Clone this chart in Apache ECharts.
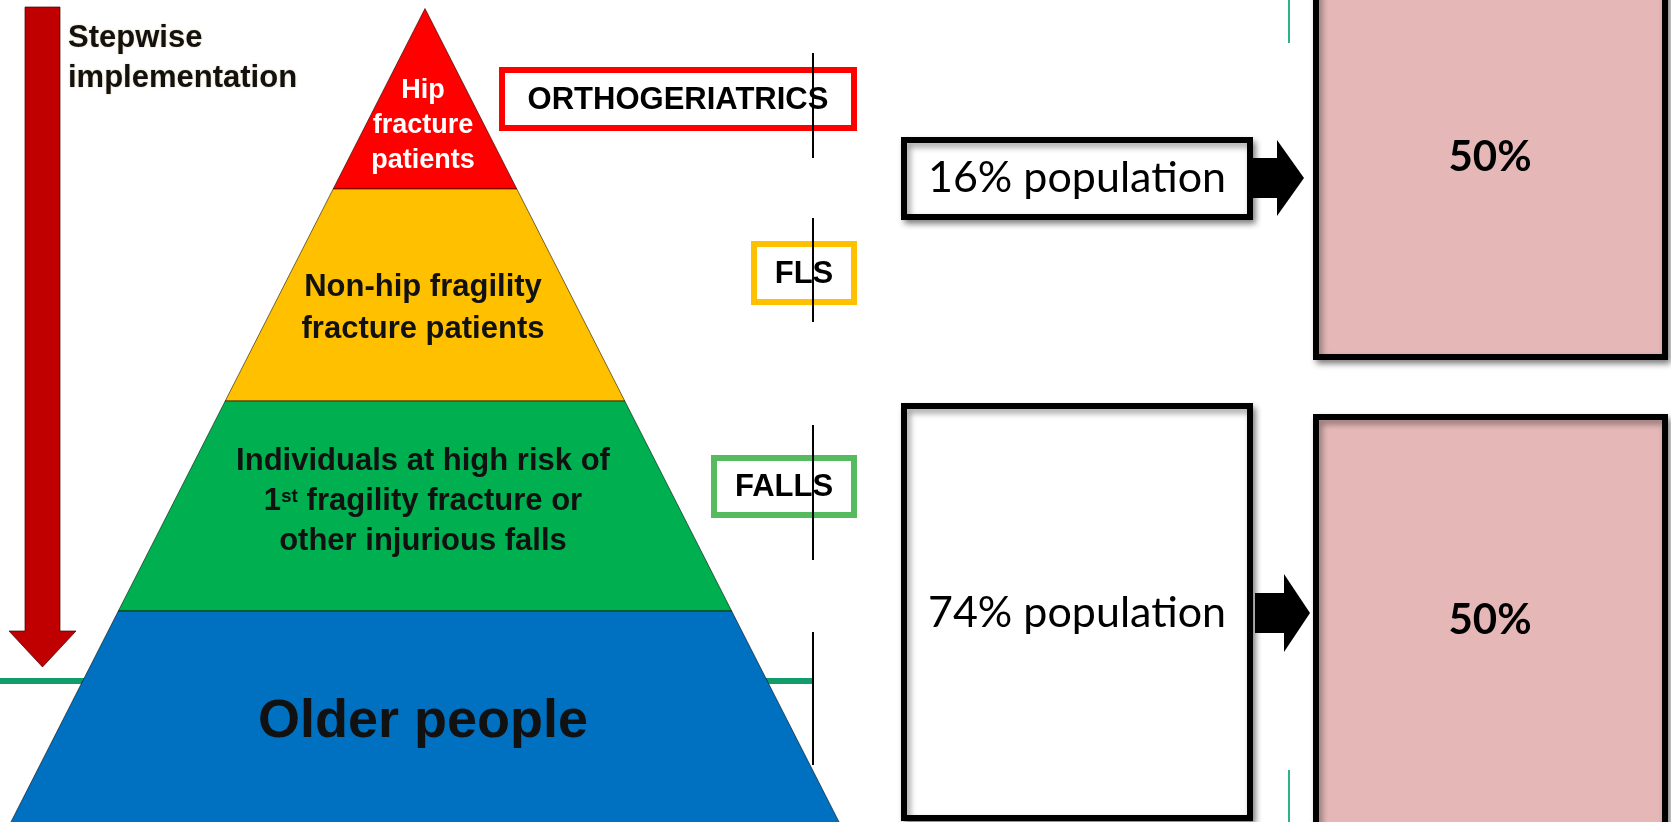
<!DOCTYPE html>
<html>
<head>
<meta charset="utf-8">
<title>Stepwise implementation pyramid</title>
<script src="https://cdn.jsdelivr.net/npm/echarts@6/dist/echarts.min.js"></script>
<style>
  html, body { margin: 0; padding: 0; background: #fff; }
  #main { width: 1671px; height: 822px; }
</style>
</head>
<body>
<div id="main"></div>
<script>
// ====== data ======
const tierLabels = [
  'Hip\nfracture\npatients',
  'Non-hip fragility\nfracture patients',
  'Individuals at high risk of\n1{sup|st} fragility fracture or\nother injurious falls',
  'Older people'
];
const programmeLabels = ['ORTHOGERIATRICS', 'FLS', 'FALLS'];
const populationShares = [16, 74];
const outcomeShares = [50, 50];
const stepLabel = ['Stepwise', 'implementation'];

// ====== layout / styles ======
const FONT = '"Liberation Sans", Arial, sans-serif';
const FONT_C = 'Lato, "Open Sans", sans-serif';
const PYR = { cx: 425, apexY: 8.5, slope: 0.509, bounds: [8.5, 189, 401, 611, 830] };
const tierColors = ['#FF0000', '#FFC000', '#00B050', '#0070C0'];
const tierText = [
  { size: 27, lh: 35, y: 126, color: '#ffffff' },
  { size: 31, lh: 42, y: 308, color: '#111111' },
  { size: 31, lh: 40, y: 501, color: '#111111' },
  { size: 54, lh: 60, y: 722, color: '#111111' }
];
const progBoxes = [
  { x: 502, y: 70, w: 352, h: 58, color: '#FF0000' },
  { x: 754, y: 244, w: 100, h: 58, color: '#FFC000' },
  { x: 714, y: 458, w: 140, h: 57, color: '#55BB5E' }
];
const popBoxes = [
  { x: 904, y: 140, w: 346, h: 77, ty: 178 },
  { x: 904, y: 406, w: 346, h: 412, ty: 613 }
];
const outBoxes = [
  { y: -60, h: 417, ty: 157 },
  { y: 417, h: 480, ty: 620 }
];
const arrows = [
  { x0: 1253, x1: 1277, x2: 1304, cy: 178, sh: 20, hh: 38 },
  { x0: 1255, x1: 1284, x2: 1310, cy: 613, sh: 20, hh: 39 }
];

const chart = echarts.init(document.getElementById('main'), null, { renderer: 'canvas' });

const graphics = [];

// 横向绿线（在金字塔下面）
graphics.push({
  type: 'line', z: 0,
  shape: { x1: 0, y1: 681, x2: 812, y2: 681 },
  style: { stroke: '#119C6C', lineWidth: 6 }
});

// 红色向下箭头
graphics.push({
  type: 'polygon', z: 10,
  shape: { points: [[25, 7], [60, 7], [60, 631], [76, 631], [42.5, 667], [9, 631], [25, 631]] },
  style: { fill: '#C00000', stroke: 'rgba(70,0,0,0.7)', lineWidth: 1 }
});
graphics.push({
  type: 'text', z: 10, x: 68, y: 58.5,
  style: {
    text: stepLabel.join('\n'), font: 'bold 31px ' + FONT, lineHeight: 40,
    fill: '#111', verticalAlign: 'middle', align: 'left',
    textShadowColor: 'rgba(190,150,40,0.5)', textShadowBlur: 2
  }
});

// 项目框
programmeLabels.forEach((name, i) => {
  const b = progBoxes[i];
  graphics.push({
    type: 'rect', z: 10,
    shape: { x: b.x, y: b.y, width: b.w, height: b.h },
    style: { fill: '#fff', stroke: b.color, lineWidth: 6 }
  });
  graphics.push({
    type: 'text', z: 11, x: b.x + b.w / 2, y: b.y + b.h / 2 + 1,
    style: { text: name, font: 'bold 31px ' + FONT, fill: '#000', align: 'center', verticalAlign: 'middle' }
  });
});

// 竖向细黑线
[[53, 158], [218, 322], [425, 560], [632, 765]].forEach(s => {
  graphics.push({
    type: 'line', z: 12,
    shape: { x1: 813, y1: s[0], x2: 813, y2: s[1] },
    style: { stroke: '#000', lineWidth: 2 }
  });
});

// 右侧绿线
[[0, 43], [770, 822]].forEach(s => {
  graphics.push({
    type: 'line', z: 5,
    shape: { x1: 1289, y1: s[0], x2: 1289, y2: s[1] },
    style: { stroke: '#2DB386', lineWidth: 2 }
  });
});

const shadow = { shadowBlur: 6, shadowOffsetX: 3, shadowOffsetY: 4, shadowColor: 'rgba(0,0,0,0.4)' };

// 人群比例框 + 箭头 + 粉色结果框
populationShares.forEach((v, i) => {
  const b = popBoxes[i];
  graphics.push({
    type: 'rect', z: 10,
    shape: { x: b.x, y: b.y, width: b.w, height: b.h },
    style: Object.assign({ fill: '#fff', stroke: '#000', lineWidth: 6 }, shadow)
  });
  graphics.push({
    type: 'text', z: 11, x: b.x + b.w / 2, y: b.ty,
    style: { text: v + '% population', font: '43px ' + FONT_C, fill: '#000', align: 'center', verticalAlign: 'middle' }
  });

  const a = arrows[i];
  graphics.push({
    type: 'polygon', z: 10,
    shape: { points: [
      [a.x0, a.cy - a.sh], [a.x1, a.cy - a.sh], [a.x1, a.cy - a.hh], [a.x2, a.cy],
      [a.x1, a.cy + a.hh], [a.x1, a.cy + a.sh], [a.x0, a.cy + a.sh]
    ] },
    style: { fill: '#000' }
  });

  const o = outBoxes[i];
  graphics.push({
    type: 'rect', z: 10,
    shape: { x: 1316, y: o.y, width: 349, height: o.h },
    style: Object.assign({ fill: '#E5B8B7', stroke: '#000', lineWidth: 6 }, shadow)
  });
  graphics.push({
    type: 'text', z: 11, x: 1490, y: o.ty,
    style: { text: outcomeShares[i] + '%', font: 'bold 42px ' + FONT_C, fill: '#000', align: 'center', verticalAlign: 'middle' }
  });
});

const option = {
  backgroundColor: '#ffffff',
  animation: false,
  grid: { left: 0, right: 0, top: 0, bottom: 0, containLabel: false },
  xAxis: { type: 'value', min: 0, max: 1671, show: false },
  yAxis: { type: 'value', min: 0, max: 822, inverse: true, show: false },
  graphic: { elements: graphics },
  series: [{
    type: 'custom',
    z: 2,
    clip: false,
    silent: true,
    data: tierLabels.map((t, i) => [i]),
    renderItem: function (params, api) {
      const i = api.value(0);
      const yTop = PYR.bounds[i];
      const yBot = PYR.bounds[i + 1];
      const hw = y => PYR.slope * (y - PYR.apexY);
      const pts = [
        [PYR.cx - hw(yTop), yTop], [PYR.cx + hw(yTop), yTop],
        [PYR.cx + hw(yBot), yBot], [PYR.cx - hw(yBot), yBot]
      ].map(p => api.coord(p));
      const t = tierText[i];
      const c = api.coord([PYR.cx - 2, t.y]);
      return {
        type: 'group',
        children: [
          {
            type: 'polygon',
            shape: { points: pts },
            style: { fill: tierColors[i], stroke: 'rgba(0,0,0,0.55)', lineWidth: 1 }
          },
          {
            type: 'text',
            x: c[0], y: c[1],
            style: {
              text: tierLabels[i],
              fontFamily: FONT, fontWeight: 'bold', fontSize: t.size,
              lineHeight: t.lh, fill: t.color,
              align: 'center', verticalAlign: 'middle',
              rich: { sup: { fontFamily: FONT, fontWeight: 'bold', fontSize: 19, fill: t.color, padding: [0, 0, 8, 0] } }
            }
          }
        ]
      };
    }
  }]
};

chart.setOption(option);
window.addEventListener('resize', () => chart.resize());
</script>
</body>
</html>
